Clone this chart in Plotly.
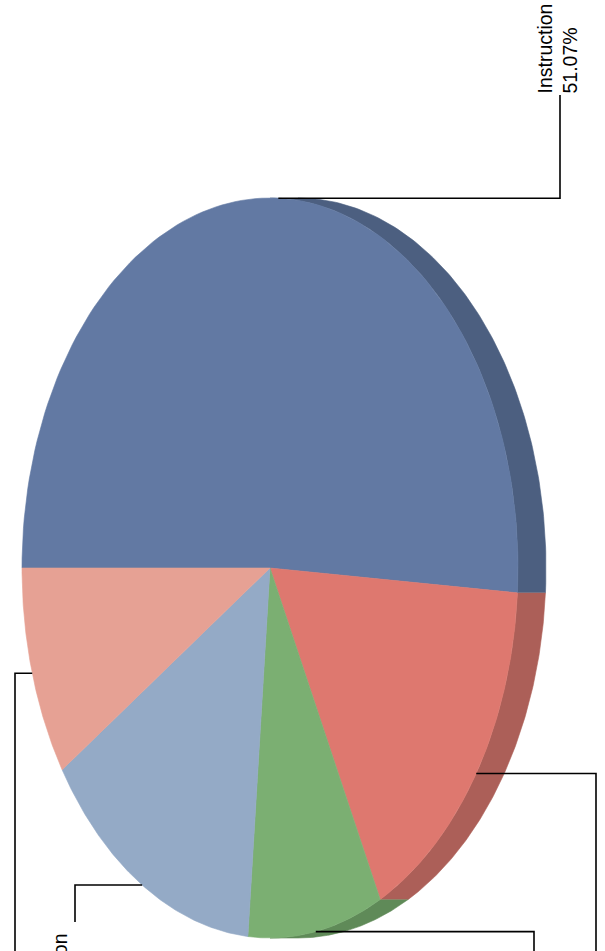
import numpy as np
import plotly.graph_objects as go

# ---------------- data ----------------
categories = ["Instruction", "Support Services", "Operations", "Administration", "Transportation"]
shares = [51.07, 16.60, 8.75, 14.40, 9.18]          # percent of total

# ---------------- styles ----------------
face_colors = ["#6279A3", "#DE786F", "#7BAF72", "#94AAC6", "#E6A194"]
side_colors = ["#4C5F80", "#AC5F58", "#5F8A58", "#74859B", "#B47E74"]

W, H = 605, 951
CX, CY = 270, 568          # centre of the pie face (px)
RX, RY = 248, 370          # radii of the tilted (elliptical) face
DEPTH = 28                 # thickness of the 3D wall
START = 180.0              # first slice starts at 9 o'clock, clockwise

# label layout per slice: elbow x, end y of vertical leader
label_elbow_x = [560, 596, 534, 75, 15]
label_end_y = [95, 1010, 1010, 922, 1010]
FONT = dict(family="Liberation Sans, Arial, sans-serif", size=19.5, color="black")


def arc(t0, t1, shift=0.0, n=120):
    t = np.radians(np.linspace(t0, t1, n))
    return CX + shift + RX * np.cos(t), CY - RY * np.sin(t)


fig = go.Figure()

# slice angles
spans = [s / sum(shares) * 360.0 for s in shares]
bounds = []
a = START
for sp in spans:
    bounds.append((a, a - sp))
    a -= sp

# 3D wall (visible on the right half, -90..90 deg)
for (t0, t1), col in zip(bounds, side_colors):
    lo, hi = min(t0, t1), max(t0, t1)
    hi_c = min(hi, 90)
    lo_c = max(lo, -90)
    if hi_c <= lo_c:
        continue
    xs, ys = arc(hi_c, lo_c, DEPTH)
    xb, yb = arc(lo_c, hi_c, 0)
    fig.add_trace(go.Scatter(x=np.r_[xs, xb], y=np.r_[ys, yb], fill="toself",
                             mode="lines", line=dict(color=col, width=0.6),
                             fillcolor=col, hoverinfo="skip", showlegend=False))

# top faces
for (t0, t1), col in zip(bounds, face_colors):
    xa, ya = arc(t0, t1, 0)
    fig.add_trace(go.Scatter(x=np.r_[CX, xa, CX], y=np.r_[CY, ya, CY], fill="toself",
                             mode="lines", line=dict(color=col, width=0.6),
                             fillcolor=col, hoverinfo="skip", showlegend=False))

# leader lines and labels
for i, ((t0, t1), name, val) in enumerate(zip(bounds, categories, shares)):
    mid = np.radians((t0 + t1) / 2)
    px, py = CX + RX * np.cos(mid), CY - RY * np.sin(mid)
    ex, ey = label_elbow_x[i], label_end_y[i]
    fig.add_trace(go.Scatter(x=[px, ex, ex], y=[py, py, ey], mode="lines",
                             line=dict(color="black", width=1.6),
                             hoverinfo="skip", showlegend=False))
    up = ey < py
    fig.add_annotation(x=ex - 3, y=ey + 0.5 if up else ey + 9, xref="x", yref="y",
                       text=f"{name}<br>{val:.2f}%", showarrow=False,
                       textangle=-90, align="left", font=FONT,
                       xanchor="center", yanchor="bottom" if up else "top")

fig.update_xaxes(range=[0, W], visible=False, fixedrange=True)
fig.update_yaxes(range=[H, 0], visible=False, fixedrange=True)
fig.update_layout(width=W, height=H, margin=dict(l=0, r=0, t=0, b=0),
                  paper_bgcolor="white", plot_bgcolor="white", showlegend=False)

fig.write_html("out.html", config={"displayModeBar": False},
               post_script="document.body.style.margin='0';document.body.style.overflow='hidden';")
